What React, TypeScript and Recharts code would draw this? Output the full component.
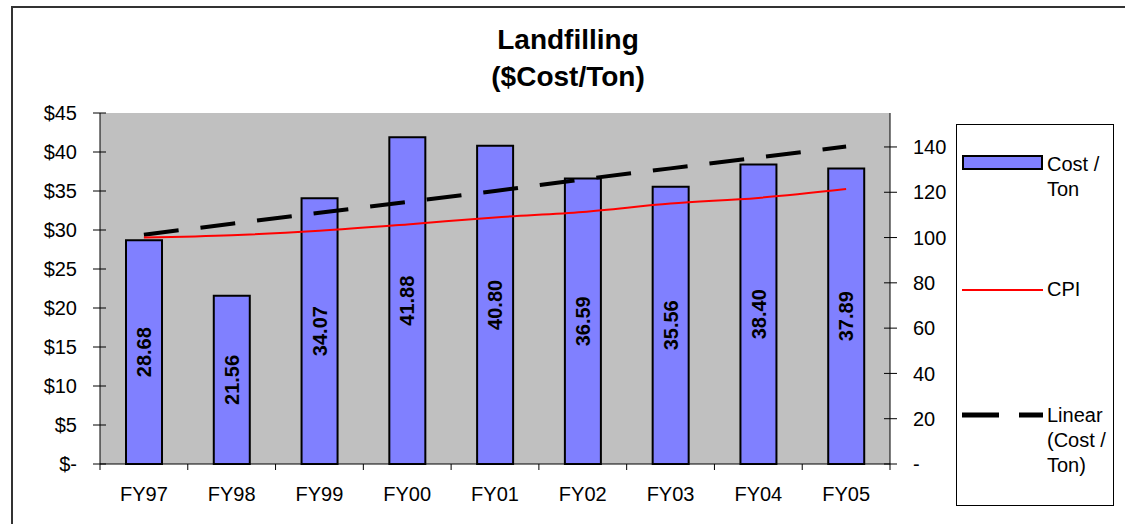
import React from "react";
import {
  ComposedChart,
  Bar,
  Line,
  XAxis,
  YAxis,
  CartesianGrid,
  LabelList,
} from "recharts";

const categories = ["FY97", "FY98", "FY99", "FY00", "FY01", "FY02", "FY03", "FY04", "FY05"];
const costPerTon = [28.68, 21.56, 34.07, 41.88, 40.8, 36.59, 35.56, 38.4, 37.89];
const cpi = [100, 101, 103, 105.8, 108.9, 111.3, 115, 117.5, 121.4];
const linearTrend = [29.4, 30.8, 32.2, 33.6, 35.0, 36.5, 37.9, 39.3, 40.7];
const leftTicks = [0, 5, 10, 15, 20, 25, 30, 35, 40, 45];
const rightTicks = [0, 20, 40, 60, 80, 100, 120, 140];

const titleLines = ["Landfilling", "($Cost/Ton)"];
const seriesNames = { cost: "Cost / Ton", cpi: "CPI", trend: "Linear (Cost / Ton)" };

const data = categories.map((c, i) => ({
  name: c,
  cost: costPerTon[i],
  cpi: cpi[i],
  trend: linearTrend[i],
}));

const FONT = '"Liberation Sans", Arial, sans-serif';
const BAR_FILL = "#8080FF";
const TICK_SIZE_Y = 7;
const TICK_MARGIN_Y = 16;
const TICK_SIZE_X = 6;
const TICK_MARGIN_X = 17;

const XTick = (props: any) => {
  const { x, y, payload, index, visibleTicksCount } = props;
  const half = payload && payload.offset ? payload.offset : 0;
  const axisY = y - TICK_SIZE_X - TICK_MARGIN_X;
  const isLast = index === visibleTicksCount - 1;
  return (
    <g>
      <line x1={x - half} x2={x - half} y1={axisY} y2={axisY + TICK_SIZE_X} stroke="#000" />
      {isLast && (
        <line x1={x + half} x2={x + half} y1={axisY} y2={axisY + TICK_SIZE_X} stroke="#000" />
      )}
      <text
        x={x}
        y={y}
        dy="0.71em"
        textAnchor="middle"
        fontSize={20}
        fontFamily={FONT}
        fill="#000"
      >
        {payload.value}
      </text>
    </g>
  );
};

const LeftTick = (props: any) => {
  const { x, y, payload } = props;
  const axisX = x + TICK_MARGIN_Y + TICK_SIZE_Y;
  const label = payload.value === 0 ? "$-" : `$${payload.value}`;
  return (
    <g>
      <line x1={axisX - TICK_SIZE_Y} x2={axisX + 6} y1={y} y2={y} stroke="#000" />
      <text x={x} y={y} dy="0.355em" textAnchor="end" fontSize={20} fontFamily={FONT} fill="#000">
        {label}
      </text>
    </g>
  );
};

const RightTick = (props: any) => {
  const { x, y, payload } = props;
  const axisX = x - TICK_MARGIN_Y - TICK_SIZE_Y;
  const label = payload.value === 0 ? "-" : `${payload.value}`;
  return (
    <g>
      <line x1={axisX - 6} x2={axisX + TICK_SIZE_Y} y1={y} y2={y} stroke="#000" />
      <text x={x} y={y} dy="0.355em" textAnchor="start" fontSize={20} fontFamily={FONT} fill="#000">
        {label}
      </text>
    </g>
  );
};

export default function App() {
  return (
    <div
      style={{
        position: "absolute",
        left: 0,
        top: 0,
        width: 1125,
        height: 524,
        background: "#fff",
        fontFamily: FONT,
        overflow: "hidden",
      }}
    >
      <div
        style={{
          position: "absolute",
          left: 11,
          top: 6,
          width: 1112,
          height: 516,
          borderLeft: "2px solid #333",
          borderTop: "2px solid #333",
        }}
      />
      <div
        style={{
          position: "absolute",
          left: 418,
          top: 21,
          width: 300,
          textAlign: "center",
          fontWeight: "bold",
          fontSize: 28,
          lineHeight: "37px",
          color: "#000",
        }}
      >
        {titleLines.map((t) => (
          <div key={t}>{t}</div>
        ))}
      </div>
      <ComposedChart
        width={1125}
        height={524}
        data={data}
        margin={{ top: 113, right: 175, bottom: 20, left: 40 }}
        style={{ position: "absolute", left: 0, top: 0 }}
      >
        <CartesianGrid
          xAxisId="cat"
          yAxisId="left"
          fill="#C0C0C0"
          horizontal={false}
          vertical={false}
          stroke="none"
        />
        <XAxis
          xAxisId="cat"
          dataKey="name"
          height={40}
          axisLine={{ stroke: "#000" }}
          tickLine={false}
          tickSize={TICK_SIZE_X}
          tickMargin={TICK_MARGIN_X}
          tick={<XTick />}
          interval={0}
        />
        <YAxis
          yAxisId="left"
          orientation="left"
          width={60}
          domain={[0, 45]}
          ticks={leftTicks}
          interval={0}
          tick={<LeftTick />}
          axisLine={{ stroke: "#000" }}
          tickLine={false}
          tickSize={TICK_SIZE_Y}
          tickMargin={TICK_MARGIN_Y}
        />
        <YAxis
          yAxisId="right"
          orientation="right"
          width={60}
          domain={[0, 155]}
          ticks={rightTicks}
          interval={0}
          tick={<RightTick />}
          axisLine={{ stroke: "#000" }}
          tickLine={false}
          tickSize={TICK_SIZE_Y}
          tickMargin={TICK_MARGIN_Y}
          allowDataOverflow
        />
        <Bar
          xAxisId="cat"
          yAxisId="left"
          dataKey="cost"
          name={seriesNames.cost}
          fill={BAR_FILL}
          stroke="#000"
          strokeWidth={2}
          barSize={36}
          isAnimationActive={false}
        >
          <LabelList
            dataKey="cost"
            position="center"
            angle={-90}
            formatter={(v: any) => Number(v).toFixed(2)}
            style={{ fontSize: 20, fontWeight: "bold", fill: "#000", fontFamily: FONT }}
          />
        </Bar>
        <Line
          xAxisId="cat"
          yAxisId="left"
          dataKey="trend"
          name={seriesNames.trend}
          stroke="#000"
          strokeWidth={4}
          strokeDasharray="35 22"
          dot={false}
          activeDot={false}
          type="linear"
          isAnimationActive={false}
        />
        <Line
          xAxisId="cat"
          yAxisId="right"
          dataKey="cpi"
          name={seriesNames.cpi}
          stroke="#FF0000"
          strokeWidth={2}
          dot={false}
          activeDot={false}
          type="monotone"
          isAnimationActive={false}
        />
      </ComposedChart>
      <div
        style={{
          position: "absolute",
          left: 956,
          top: 124,
          width: 156,
          height: 380,
          border: "1px solid #000",
          background: "#fff",
          fontSize: 20,
          lineHeight: "25px",
          color: "#000",
        }}
      >
        <div
          style={{
            position: "absolute",
            left: 5,
            top: 30,
            width: 77,
            height: 11,
            background: BAR_FILL,
            border: "2px solid #000",
          }}
        />
        <div style={{ position: "absolute", left: 90, top: 27, width: 66 }}>
          Cost /<br />Ton
        </div>
        <div
          style={{
            position: "absolute",
            left: 5,
            top: 164,
            width: 81,
            height: 2,
            background: "#FF0000",
          }}
        />
        <div style={{ position: "absolute", left: 90, top: 152 }}>{seriesNames.cpi}</div>
        <svg style={{ position: "absolute", left: 5, top: 286 }} width={81} height={8}>
          <line x1={0} y1={4} x2={81} y2={4} stroke="#000" strokeWidth={5} strokeDasharray="37 20" />
        </svg>
        <div style={{ position: "absolute", left: 90, top: 278, width: 66 }}>
          Linear<br />(Cost /<br />Ton)
        </div>
      </div>
    </div>
  );
}
